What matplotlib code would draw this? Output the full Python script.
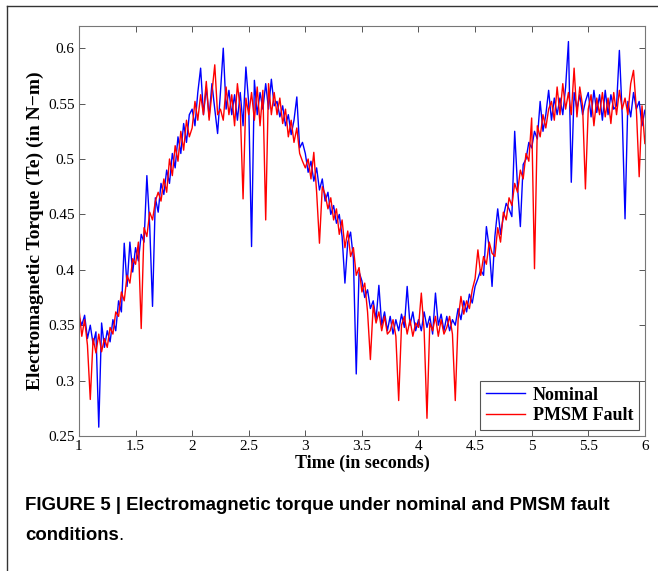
import matplotlib
matplotlib.use("Agg")
import matplotlib.pyplot as plt
from matplotlib.lines import Line2D
import numpy as np

# sample times (s)
time_s = np.linspace(1.0, 6.0, 201)

# electromagnetic torque, nominal (N-m)
nominal = [
    0.358, 0.350, 0.359, 0.338, 0.350, 0.333, 0.344, 0.258, 0.352, 0.330,
    0.345, 0.335, 0.355, 0.345, 0.372, 0.362, 0.424, 0.385, 0.425, 0.398,
    0.420, 0.408, 0.432, 0.425, 0.485, 0.440, 0.367, 0.465, 0.452, 0.478,
    0.468, 0.490, 0.478, 0.505, 0.492, 0.520, 0.505, 0.532, 0.515, 0.540,
    0.545, 0.530, 0.560, 0.582, 0.540, 0.565, 0.538, 0.568, 0.545, 0.523,
    0.560, 0.600, 0.545, 0.562, 0.540, 0.558, 0.535, 0.560, 0.530, 0.583,
    0.550, 0.421, 0.571, 0.540, 0.560, 0.545, 0.568, 0.545, 0.572, 0.548,
    0.552, 0.538, 0.548, 0.530, 0.540, 0.522, 0.535, 0.556, 0.510, 0.515,
    0.505, 0.488, 0.498, 0.480, 0.492, 0.472, 0.482, 0.462, 0.470, 0.450,
    0.458, 0.442, 0.450, 0.430, 0.388, 0.425, 0.434, 0.410, 0.306, 0.398,
    0.390, 0.375, 0.382, 0.365, 0.372, 0.355, 0.386, 0.350, 0.362, 0.345,
    0.358, 0.342, 0.355, 0.345, 0.360, 0.348, 0.385, 0.350, 0.362, 0.345,
    0.355, 0.345, 0.362, 0.348, 0.358, 0.342, 0.379, 0.350, 0.360, 0.345,
    0.358, 0.345, 0.355, 0.350, 0.365, 0.355, 0.372, 0.362, 0.378, 0.370,
    0.385, 0.392, 0.400, 0.395, 0.439, 0.420, 0.385, 0.430, 0.455, 0.432,
    0.448, 0.460, 0.455, 0.448, 0.525, 0.475, 0.439, 0.495, 0.500, 0.515,
    0.510, 0.525, 0.518, 0.552, 0.525, 0.540, 0.562, 0.535, 0.555, 0.540,
    0.555, 0.540, 0.565, 0.606, 0.479, 0.560, 0.545, 0.558, 0.540, 0.552,
    0.560, 0.538, 0.562, 0.542, 0.558, 0.535, 0.562, 0.540, 0.558, 0.545,
    0.548, 0.598, 0.540, 0.446, 0.552, 0.538, 0.560, 0.545, 0.552, 0.530,
    0.544,
]

# electromagnetic torque with PMSM fault (N-m)
pmsm_fault = [
    0.365, 0.340, 0.355, 0.332, 0.283, 0.338, 0.325, 0.342, 0.326, 0.338,
    0.330, 0.348, 0.342, 0.362, 0.358, 0.380, 0.372, 0.395, 0.388, 0.410,
    0.405, 0.425, 0.347, 0.438, 0.430, 0.452, 0.445, 0.462, 0.470, 0.462,
    0.482, 0.470, 0.500, 0.485, 0.512, 0.498, 0.525, 0.508, 0.535, 0.520,
    0.528, 0.552, 0.535, 0.558, 0.540, 0.570, 0.535, 0.560, 0.585, 0.540,
    0.545, 0.535, 0.565, 0.540, 0.558, 0.530, 0.568, 0.545, 0.464, 0.555,
    0.540, 0.560, 0.535, 0.565, 0.530, 0.562, 0.445, 0.568, 0.540, 0.560,
    0.540, 0.555, 0.532, 0.545, 0.520, 0.535, 0.515, 0.528, 0.505, 0.498,
    0.492, 0.500, 0.482, 0.506, 0.470, 0.424, 0.475, 0.468, 0.455, 0.465,
    0.445, 0.455, 0.432, 0.445, 0.420, 0.435, 0.412, 0.420, 0.395, 0.402,
    0.380, 0.388, 0.362, 0.319, 0.368, 0.352, 0.362, 0.345, 0.358, 0.342,
    0.345, 0.355, 0.340, 0.282, 0.350, 0.358, 0.342, 0.355, 0.340, 0.352,
    0.348, 0.379, 0.345, 0.266, 0.352, 0.345, 0.358, 0.340, 0.355, 0.342,
    0.348, 0.358, 0.342, 0.282, 0.355, 0.376, 0.360, 0.372, 0.365, 0.382,
    0.392, 0.418, 0.395, 0.412, 0.405, 0.425, 0.415, 0.412, 0.438, 0.425,
    0.452, 0.445, 0.465, 0.458, 0.478, 0.470, 0.490, 0.482, 0.505, 0.498,
    0.537, 0.401, 0.530, 0.520, 0.540, 0.528, 0.545, 0.552, 0.535, 0.565,
    0.540, 0.568, 0.545, 0.560, 0.540, 0.582, 0.538, 0.565, 0.548, 0.473,
    0.545, 0.558, 0.530, 0.555, 0.540, 0.560, 0.538, 0.555, 0.532, 0.560,
    0.540, 0.562, 0.545, 0.555, 0.540, 0.568, 0.580, 0.545, 0.484, 0.548,
    0.514,
]

x_ticks = [1, 1.5, 2, 2.5, 3, 3.5, 4, 4.5, 5, 5.5, 6]
x_tick_labels = ["1", "1.5", "2", "2.5", "3", "3.5", "4", "4.5", "5", "5.5", "6"]
y_ticks = [0.25, 0.3, 0.35, 0.4, 0.45, 0.5, 0.55, 0.6]
y_tick_labels = ["0.25", "0.3", "0.35", "0.4", "0.45", "0.5", "0.55", "0.6"]

serif = ["Liberation Serif", "DejaVu Serif"]

fig = plt.figure(figsize=(6.58, 5.71), dpi=100)
ax = fig.add_axes([0.120, 0.2364, 0.860, 0.718])

ax.plot(time_s, nominal, color="#0000ff", lw=1.0, label="Nominal")
ax.plot(time_s, pmsm_fault, color="#ff0000", lw=1.0, label="PMSM Fault")

ax.set_xlim(1, 6)
ax.set_ylim(0.25, 0.62)
ax.set_xticks(x_ticks)
ax.set_xticklabels(x_tick_labels, family=serif, fontsize=11)
ax.set_yticks(y_ticks)
ax.set_yticklabels(y_tick_labels, family=serif, fontsize=11)
ax.tick_params(direction="in", top=True, right=True, length=4, width=0.7,
               color="#555555", pad=3)
for sp in ax.spines.values():
    sp.set_color("#777777")
    sp.set_linewidth(0.8)

ax.set_xlabel("Time (in seconds)", family=serif, fontsize=13, fontweight="bold", labelpad=1)
ax.set_ylabel("Electromagnetic Torque (Te) (in N\u2212m)", family=serif, fontsize=14,
              fontweight="bold", labelpad=3)

leg = ax.legend(loc="lower right", prop={"family": serif, "weight": "bold", "size": 13},
                fancybox=False, edgecolor="#555555", framealpha=1,
                handlelength=2.2, handletextpad=0.4, borderpad=0.3,
                labelspacing=0.2, borderaxespad=0.35)
leg.get_frame().set_linewidth(0.8)

# outer frame of the figure panel
fig.add_artist(Line2D([7 / 658, 7 / 658], [0, 1 - 6 / 571], color="#333333", lw=1.0))
fig.add_artist(Line2D([7 / 658, 1], [1 - 6 / 571, 1 - 6 / 571], color="#333333", lw=1.0))

# caption
cap_font = ["Liberation Sans", "DejaVu Sans"]
fig.text(25 / 658, 1 - 505 / 571,
         "FIGURE 5 | Electromagnetic torque under nominal and PMSM fault",
         family=cap_font, fontsize=13.4, fontweight="bold", va="center", ha="left")
cond = fig.text(25 / 658, 1 - 536 / 571, "conditions",
                family=cap_font, fontsize=13.4, fontweight="bold", va="center", ha="left")
renderer = fig.canvas.get_renderer()
bb = cond.get_window_extent(renderer)
fig.text(bb.x1 / (fig.dpi * 6.58), 1 - 536 / 571, ".",
         family=cap_font, fontsize=13.4, va="center", ha="left")

fig.savefig("out.png", dpi=100)
